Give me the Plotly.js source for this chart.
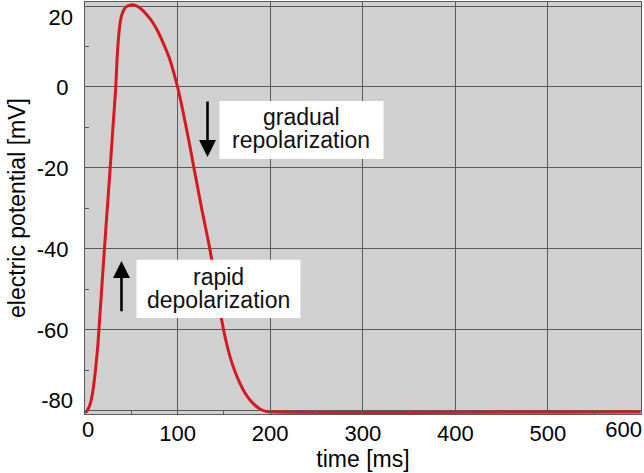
<!DOCTYPE html>
<html>
<head>
<meta charset="utf-8">
<script src="https://cdn.plot.ly/plotly-3.0.1.min.js"></script>
<style>html,body{margin:0;padding:0;background:#fff;}#chart{width:644px;height:473px;}</style>
</head>
<body>
<div id="chart"></div>
<script>
const timeMs = [0, 2, 4, 6, 8, 10, 12, 14, 16, 18, 21, 24.1, 27.2, 30.2, 33.2, 34.8, 36.5, 38.2, 40, 42, 44.5, 47.5, 51, 55, 60, 67, 73, 79, 85, 91, 95.5, 100, 104.5, 109, 113.5, 117.5, 126, 134.8, 142.2, 148, 152.5, 157.5, 162.5, 167.5, 172.5, 178, 184, 190, 196, 204, 600];
const potentialMv = [-80.4, -80.1, -79.3, -78, -75.8, -72.6, -68.4, -63.4, -56.7, -50, -40, -30, -20, -10, 0, 7.5, 13, 16.2, 18, 19.1, 19.8, 20.15, 20.3, 20.1, 19.4, 17.8, 16, 13.6, 10.6, 7.2, 3.8, 0, -4.6, -9.6, -14.9, -19.8, -30, -40, -50, -58, -63, -67.3, -70.6, -73.3, -75.5, -77.3, -78.7, -79.7, -80.2, -80.3, -80.3];
const xTicks = [0, 100, 200, 300, 400, 500, 600];
const yTicks = [-80, -60, -40, -20, 0, 20];
const repolLines = ['gradual', 'repolarization'];
const depolLines = ['rapid', 'depolarization'];

const gridCol = '#5a5a5a';
const fontFam = 'Liberation Sans, Arial, sans-serif';
const yRange = [-80.8, 21];
const xRange = [0, 600.5];
const tickFont = {size: 22, family: fontFam, color: '#000'};
const noteFont = {size: 23, family: fontFam, color: '#111'};

const trace = {
  x: timeMs, y: potentialMv, type: 'scatter', mode: 'lines',
  line: {color: '#d7191f', width: 3, shape: 'spline', smoothing: 1},
  hoverinfo: 'skip', showlegend: false
};

function hiddenTrace(xa, ya) {
  return {x: [300], y: [0], xaxis: xa, yaxis: ya, mode: 'markers', marker: {opacity: 0}, hoverinfo: 'skip', showlegend: false};
}

function overlayY(vals, shift) {
  return {
    overlaying: 'y', range: yRange, tickvals: vals, ticktext: vals.map(String),
    showgrid: false, zeroline: false, showline: false, ticks: '',
    tickfont: tickFont, ticklabelshift: shift, ticklabelstandoff: 11
  };
}
function overlayX(vals, shift) {
  return {
    overlaying: 'x', anchor: 'y', side: 'bottom', range: xRange, tickvals: vals, ticktext: vals.map(String),
    showgrid: false, zeroline: false, showline: false, ticks: '', ticklabeloverflow: 'allow',
    tickfont: tickFont, ticklabelshift: shift, ticklabelstandoff: 0
  };
}

const layout = {
  width: 644, height: 473,
  margin: {l: 85, r: 3, t: 2, b: 59},
  paper_bgcolor: '#ffffff', plot_bgcolor: '#d0d0d0',
  font: {family: fontFam, color: '#000', size: 20},
  showlegend: false,
  xaxis: {
    range: xRange, tickvals: xTicks, ticktext: xTicks.map((v) => (v === 0 || v === 600) ? '' : String(v)),
    showgrid: true, gridcolor: gridCol, gridwidth: 1,
    showline: true, linecolor: gridCol, linewidth: 1, mirror: true,
    ticks: 'inside', ticklen: 4, tickcolor: gridCol,
    minor: {tickvals: [50,150,250,350,450,550], ticks: 'inside', ticklen: 4, tickcolor: gridCol, showgrid: false},
    tickfont: tickFont, zeroline: false, ticklabelstandoff: 0,
    title: {text: 'time [ms]', font: {size: 23, family: fontFam}, standoff: 0}
  },
  xaxis2: overlayX([0], 3),
  xaxis3: overlayX([600], -17),
  yaxis: {
    range: yRange, tickvals: yTicks, ticktext: yTicks.map((v) => (v === -80 || v === 20) ? '' : String(v)),
    showgrid: true, gridcolor: gridCol, gridwidth: 1,
    showline: true, linecolor: gridCol, linewidth: 1, mirror: true,
    ticks: 'inside', ticklen: 4, tickcolor: gridCol,
    minor: {tickvals: [-70,-50,-30,-10,10], ticks: 'inside', ticklen: 4, tickcolor: gridCol, showgrid: false},
    tickfont: tickFont, zeroline: false, ticklabelstandoff: 11,
    title: {text: 'electric potential [mV]', font: {size: 23, family: fontFam}, standoff: 4}
  },
  yaxis2: overlayY([20], 11),
  yaxis3: overlayY([-80], -10),
  shapes: [
    {type: 'rect', xref: 'x', yref: 'y', x0: 145.2, x1: 322.4, y0: -3.46, y1: -17.8, fillcolor: '#ffffff', line: {width: 0}, layer: 'above'},
    {type: 'rect', xref: 'x', yref: 'y', x0: 55.6, x1: 232.7, y0: -42.7, y1: -57.1, fillcolor: '#ffffff', line: {width: 0}, layer: 'above'}
  ],
  annotations: [
    {x: 233.8, y: -7.4, xref: 'x', yref: 'y', text: repolLines[0], showarrow: false, font: noteFont, borderpad: 0},
    {x: 233.8, y: -13.1, xref: 'x', yref: 'y', text: repolLines[1], showarrow: false, font: noteFont, borderpad: 0},
    {x: 144.2, y: -46.9, xref: 'x', yref: 'y', text: depolLines[0], showarrow: false, font: noteFont, borderpad: 0},
    {x: 144.2, y: -52.6, xref: 'x', yref: 'y', text: depolLines[1], showarrow: false, font: noteFont, borderpad: 0},
    {x: 132.3, y: -17.3, ax: 132.3, ay: -3.2, xref: 'x', yref: 'y', axref: 'x', ayref: 'y', text: '',
     showarrow: true, arrowhead: 2, arrowsize: 1.3, arrowwidth: 2.6, arrowcolor: '#000'},
    {x: 39.4, y: -43, ax: 39.4, ay: -55.8, xref: 'x', yref: 'y', axref: 'x', ayref: 'y', text: '',
     showarrow: true, arrowhead: 2, arrowsize: 1.3, arrowwidth: 2.6, arrowcolor: '#000'}
  ]
};

Plotly.newPlot('chart', [hiddenTrace('x', 'y2'), hiddenTrace('x', 'y3'), hiddenTrace('x2', 'y'), hiddenTrace('x3', 'y'), trace], layout, {staticPlot: true, displayModeBar: false});
</script>
</body>
</html>
